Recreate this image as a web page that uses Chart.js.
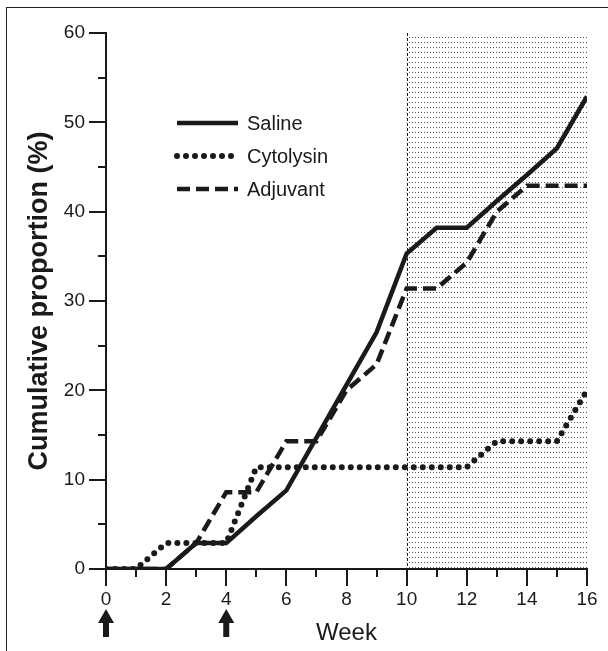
<!DOCTYPE html>
<html>
<head>
<meta charset="utf-8">
<script src="https://cdn.jsdelivr.net/npm/chart.js@4.4.1/dist/chart.umd.min.js"></script>
<style>
  html, body { margin: 0; padding: 0; background: #fff; }
  #wrap { position: relative; width: 608px; height: 651px; overflow: hidden; }
  #frame { position: absolute; left: 6px; top: 7px; width: 700px; height: 700px;
           border-left: 1.5px solid #222; border-top: 1.5px solid #222; pointer-events: none; }
</style>
</head>
<body>
<div id="wrap">
  <canvas id="chart" width="608" height="651"></canvas>
  <div id="frame"></div>
</div>
<script>
// data (cumulative %, per week)
const weeks = [0, 1, 2, 3, 4, 5, 6, 7, 8, 9, 10, 11, 12, 13, 14, 15, 16];
const saline    = [0, 0, 0, 2.9, 2.9, 5.9, 8.8, 14.7, 20.6, 26.5, 35.3, 38.2, 38.2, 41.2, 44.1, 47.1, 52.9];
const cytolysin = [0, 0, 2.9, 2.9, 2.9, 11.4, 11.4, 11.4, 11.4, 11.4, 11.4, 11.4, 11.4, 14.3, 14.3, 14.3, 20.0];
const adjuvant  = [0, 0, 0, 2.9, 8.6, 8.6, 14.3, 14.3, 20.0, 22.9, 31.4, 31.4, 34.3, 40.0, 42.9, 42.9, 42.9];
const seriesNames = ['Saline', 'Cytolysin', 'Adjuvant'];
const shadedWeeks = [10, 16];     // shaded follow-up window
const injectionWeeks = [0, 4];    // arrows under the axis

const ink = '#1a1a1a';
Chart.defaults.font.family = "'Liberation Sans', Arial, sans-serif";
Chart.defaults.color = ink;

// little stipple tile for the shaded area
function stipple(ctx) {
  const c = document.createElement('canvas');
  c.width = 3; c.height = 5;
  const g = c.getContext('2d');
  g.fillStyle = '#555';
  g.fillRect(1, 2, 1, 1);
  return ctx.createPattern(c, 'repeat');
}

const extras = {
  id: 'extras',
  beforeDatasetsDraw(chart) {
    const {ctx, scales: {x, y}} = chart;
    const x0 = x.getPixelForValue(shadedWeeks[0]);
    const x1 = x.getPixelForValue(shadedWeeks[1]);
    const yTop = y.getPixelForValue(y.max);
    const yBot = y.getPixelForValue(y.min);
    ctx.save();
    ctx.fillStyle = stipple(ctx);
    ctx.fillRect(x0, yTop, x1 - x0, yBot - yTop);
    ctx.strokeStyle = ink;
    ctx.lineWidth = 1;
    ctx.setLineDash([3, 2]);
    ctx.beginPath();
    ctx.moveTo(Math.round(x0) + 0.5, yTop);
    ctx.lineTo(Math.round(x0) + 0.5, yBot);
    ctx.stroke();
    ctx.restore();
  },
  afterDraw(chart) {
    const {ctx, scales: {x, y}, chartArea} = chart;
    ctx.save();
    ctx.strokeStyle = ink;
    ctx.lineWidth = 2;
    // tick marks, long on labelled values
    for (let w = x.min; w <= x.max; w++) {
      const px = Math.round(x.getPixelForValue(w));
      const len = w % 2 === 0 ? 17 : 8;
      ctx.beginPath();
      ctx.moveTo(px, chartArea.bottom);
      ctx.lineTo(px, chartArea.bottom + len);
      ctx.stroke();
    }
    for (let v = y.min; v <= y.max; v += 5) {
      const py = Math.round(y.getPixelForValue(v));
      const len = v % 10 === 0 ? 17 : 8;
      ctx.beginPath();
      ctx.moveTo(chartArea.left, py);
      ctx.lineTo(chartArea.left - len, py);
      ctx.stroke();
    }

    // arrows for injections
    ctx.fillStyle = ink;
    injectionWeeks.forEach(w => {
      const px = x.getPixelForValue(w);
      const top = chartArea.bottom + 40;
      ctx.beginPath();
      ctx.moveTo(px, top);
      ctx.lineTo(px + 8, top + 14);
      ctx.lineTo(px + 3, top + 14);
      ctx.lineTo(px + 3, top + 28);
      ctx.lineTo(px - 3, top + 28);
      ctx.lineTo(px - 3, top + 14);
      ctx.lineTo(px - 8, top + 14);
      ctx.closePath();
      ctx.fill();
    });

    // legend inside the plot
    const lx = chartArea.left + 71, lw = 61;
    ctx.font = "20px 'Liberation Sans', Arial, sans-serif";
    ctx.textBaseline = 'middle';
    chart.data.datasets.forEach((ds, i) => {
      const ly = chartArea.top + 90 + i * 33;
      ctx.save();
      ctx.strokeStyle = ds.borderColor;
      ctx.lineWidth = ds.borderWidth;
      ctx.lineCap = ds.borderCapStyle || 'butt';
      ctx.setLineDash(ds.borderDash || []);
      ctx.beginPath();
      ctx.moveTo(lx, ly);
      ctx.lineTo(lx + lw, ly);
      ctx.stroke();
      ctx.restore();
      ctx.fillText(ds.label, lx + lw + 9, ly + 1);
    });
    ctx.restore();
  }
};

new Chart(document.getElementById('chart'), {
  type: 'line',
  data: {
    labels: weeks,
    datasets: [
      { label: seriesNames[0], data: weeks.map((w, i) => ({x: w, y: saline[i]})),
        borderColor: ink, borderWidth: 4.5, borderCapStyle: 'butt' },
      { label: seriesNames[1], data: weeks.map((w, i) => ({x: w, y: cytolysin[i]})),
        borderColor: ink, borderWidth: 6, borderDash: [0, 9], borderCapStyle: 'round' },
      { label: seriesNames[2], data: weeks.map((w, i) => ({x: w, y: adjuvant[i]})),
        borderColor: ink, borderWidth: 4.5, borderDash: [13, 6], borderCapStyle: 'butt' }
    ]
  },
  options: {
    responsive: false,
    animation: false,
    layout: { padding: { top: 33, right: 21, bottom: 3, left: 0 } },
    elements: { point: { radius: 0 }, line: { tension: 0, fill: false } },
    plugins: { legend: { display: false }, tooltip: { enabled: false } },
    scales: {
      x: {
        type: 'linear', min: 0, max: 16,
        afterFit: s => { s.height = 651 - 569 - 3; },
        // tick marks are drawn by the plugin; tickLength only spaces the labels
        grid: { display: false, drawTicks: true, tickLength: 19 },
        border: { display: true, width: 2, color: ink },
        ticks: { stepSize: 2, padding: 0, font: { size: 19 }, color: ink },
        title: { display: true, text: 'Week', font: { size: 24 }, color: ink, padding: 0 }
      },
      y: {
        min: 0, max: 60,
        afterFit: s => { s.width = 106; },
        grid: { display: false, drawTicks: true, tickLength: 21 },
        border: { display: true, width: 2, color: ink },
        ticks: { stepSize: 10, padding: 0, font: { size: 19 }, color: ink },
        title: { display: true, text: 'Cumulative proportion (%)', font: { size: 27, weight: 'bold' },
                 color: ink, padding: { top: 23, bottom: 0 } }
      }
    }
  },
  plugins: [extras]
});
</script>
</body>
</html>
